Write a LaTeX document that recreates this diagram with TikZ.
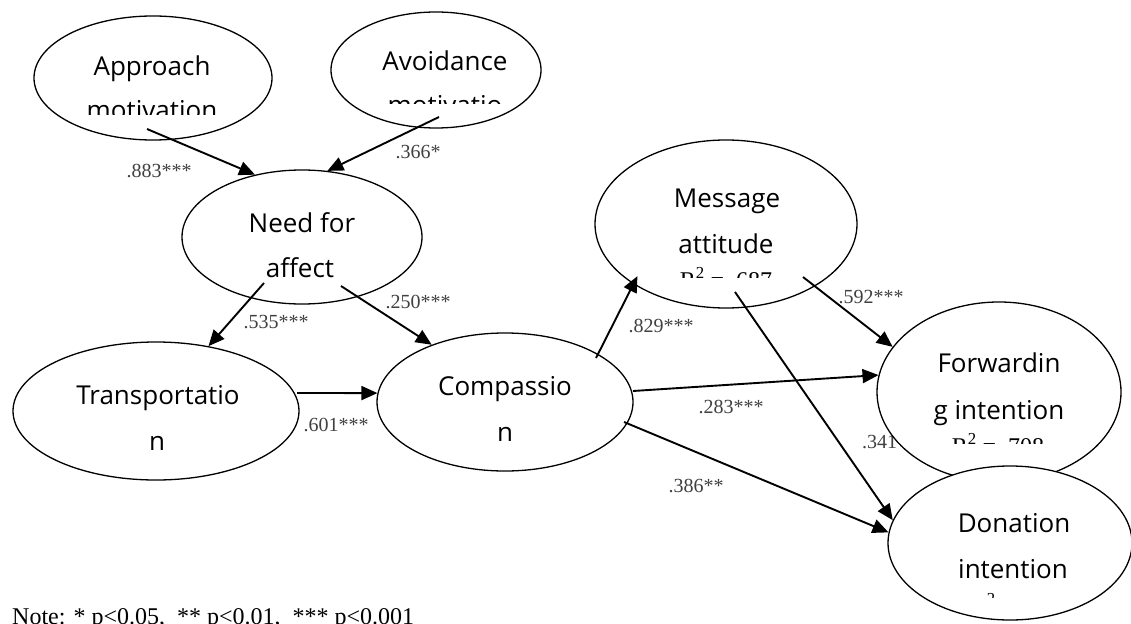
\documentclass[tikz,border=0pt]{standalone}
\usepackage{fontspec}
\usetikzlibrary{shapes.geometric,arrows.meta}
\newfontfamily\ellfont{Open Sans}
\newfontfamily\serfont{Liberation Serif}
\definecolor{labgray}{HTML}{404040}
\begin{document}
\begin{tikzpicture}[x=1pt,y=-1pt,
  ell/.style={ellipse,draw,line width=1.3pt,fill=white,inner sep=0pt},
  etxt/.style={font=\ellfont\fontsize{26}{30}\selectfont,anchor=base,inner sep=0pt},
  rtxt/.style={font=\serfont\fontsize{24}{28}\selectfont,anchor=base,inner sep=0pt},
  lab/.style={font=\serfont\fontsize{20}{24}\selectfont,text=labgray,anchor=base,inner sep=0pt},
  conn/.style={line width=1.9pt,-{Triangle[length=16pt,width=14pt]}}]
\useasboundingbox (0,0) rectangle (1131,623);

% path labels (drawn first; the .341 label is partly covered by an ellipse)
\node[lab] (l1) at (159,177) {.883***};
\node[lab] (l2) at (418,158) {.366*};
\node[lab] (l3) at (276,328) {.535***};
\node[lab] (l4) at (418,308) {.250***};
\node[lab] (l5) at (336,431) {.601***};
\node[lab] (l6) at (661,332) {.829***};
\node[lab] (l7) at (731,413) {.283***};
\node[lab] (l8) at (696,492) {.386**};
\node[lab] (l9) at (871,303) {.592***};
\node[lab,anchor=base west] (l10) at (862,448) {.341***};

% ellipses
\node[ell,minimum width=238pt,minimum height=124pt] (app) at (153,78) {};
\node[ell,minimum width=210pt,minimum height=116pt] (avo) at (436,70) {};
\node[ell,minimum width=240pt,minimum height=134pt] (need) at (302,237) {};
\node[ell,minimum width=286pt,minimum height=138pt] (tra) at (156,411) {};
\node[ell,minimum width=256pt,minimum height=138pt] (com) at (505,402) {};
\node[ell,minimum width=262pt,minimum height=168pt] (msg) at (726,224) {};
\node[ell,minimum width=244pt,minimum height=180pt] (fwd) at (999,392) {};
\node[ell,minimum width=244pt,minimum height=154pt] (don) at (1010,543) {};

% texts
\node[etxt] (t1) at (152,76) {Approach};
\begin{scope}\clip (0,0) rectangle (1131,115);
\node[etxt] (t2) at (152,120) {motivation};
\end{scope}
\node[etxt] (t3) at (445,71) {Avoidance};
\begin{scope}\clip (0,0) rectangle (1131,103.5);
\node[etxt] (t4) at (445,114) {motivatio};
\end{scope}
\node[etxt] (t5) at (302,232) {Need for};
\node[etxt] (t6) at (300,277) {affect};
\node[etxt] (t7) at (158,404) {Transportatio};
\node[etxt] (t8) at (157,450) {n};
\node[etxt] (t9) at (505,395) {Compassio};
\node[etxt] (t10) at (505,441) {n};
\node[etxt] (t11) at (727,207) {Message};
\node[etxt] (t12) at (726,253) {attitude};
\begin{scope}\clip (0,0) rectangle (1131,277);
\node[rtxt] (t13) at (726,288) {R\textsuperscript{2} = .687};
\end{scope}
\node[etxt] (t14) at (999,372) {Forwardin};
\node[etxt] (t15) at (999,419) {g intention};
\begin{scope}\clip (0,0) rectangle (1131,443);
\node[rtxt] (t16) at (998,454) {R\textsuperscript{2} = .708};
\end{scope}
\node[etxt] (t17) at (1014,532) {Donation};
\node[etxt] (t18) at (1013,578) {intention};
\begin{scope}\clip (0,0) rectangle (1131,597);
\node[rtxt,anchor=base east] (t19) at (996,614) {R\textsuperscript{2}};
\end{scope}

% connector start points
\coordinate (s1) at (147,129);
\coordinate (s2) at (439,117);
\coordinate (s3) at (264,283);
\coordinate (s4) at (341,286);
\coordinate (s5) at (297,393);
\coordinate (s6) at (596,358);
\coordinate (s7) at (633,391);
\coordinate (s8) at (624,422);
\coordinate (s9) at (803,277);
\coordinate (s10) at (735,292);

\draw[conn] (s1) -- (need.127);
\draw[conn] (s2) -- (need.69);
\draw[conn] (s3) -- (tra.51.5);
\draw[conn] (s4) -- (com.142);
\draw[conn] (s5) -- (com.176);
\draw[conn,shorten >=-9pt] (s6) -- (msg.213.4);
\draw[conn] (s7) -- (fwd.172.5);
\draw[conn] (s8) -- (don.175.3);
\draw[conn] (s9) -- (fwd.157.6);
\draw[conn] (s10) -- (don.169.2);

% note (cut at the lower edge, as in the reference)
\node[font=\serfont\fontsize{24}{28}\selectfont,anchor=base west,inner sep=0pt] (note) at (12,624) {Note: * p<0.05,\ \ ** p<0.01,\ \ *** p<0.001};
\end{tikzpicture}
\end{document}
